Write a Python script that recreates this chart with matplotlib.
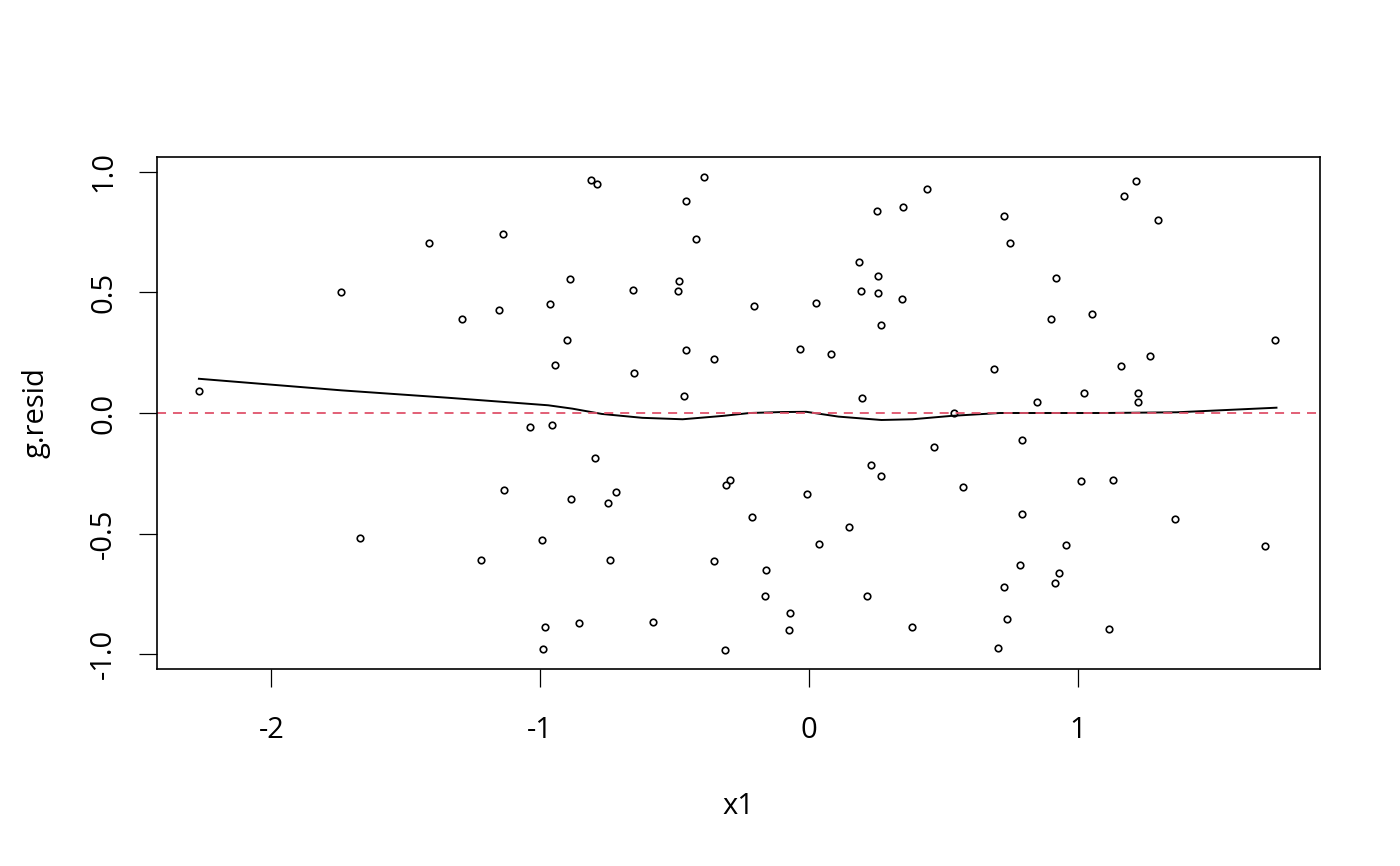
import matplotlib
matplotlib.use("Agg")
import matplotlib.pyplot as plt

plt.rcParams['font.family'] = ['Open Sans', 'DejaVu Sans']
plt.rcParams['lines.scale_dashes'] = False

# data: residual points (x1, g.resid)
x1 = [-1.415, -1.740, -2.269,
      -0.812, -0.787, -0.392, -0.458, -0.421, -1.139, -0.889, -0.653, -0.483, -0.487,
      -1.292, -1.154, -0.964, -0.902, -0.944, -0.456, -0.354, -0.650, -0.464,
      0.439, 0.252, 0.351, 0.727, 0.747, 0.185, 0.258, 0.195, 0.256, 0.347,
      -0.205, 0.028, 0.267, -0.032, 0.084, 0.687, 0.198, 0.849, 0.541,
      1.217, 1.174, 1.300, 0.918, 0.900, 1.054, 1.736, 1.268, 1.160, 1.025, 1.223, 1.223,
      -1.669,
      -1.038, -0.955, -0.797, -1.133, -0.887, -0.719, -0.746, -0.309, -0.293, -0.992,
      -1.221, -0.742, -0.354, -0.982, -0.855, -0.580, -0.989, -0.313,
      0.793, 0.466, 0.231, 0.267, 0.573, -0.007, -0.211, 0.793, 0.151, 0.036,
      -0.158, -0.164, 0.218, -0.072, -0.073, 0.382, 0.786, 0.727, 0.736, 0.705,
      1.011, 1.132, 1.363, 1.699, 0.955, 0.932, 0.917, 1.115]
g_resid = [0.704, 0.501, 0.091,
           0.966, 0.950, 0.980, 0.879, 0.723, 0.742, 0.555, 0.512, 0.547, 0.507,
           0.392, 0.428, 0.453, 0.301, 0.201, 0.262, 0.222, 0.164, 0.069,
           0.930, 0.836, 0.856, 0.816, 0.707, 0.625, 0.569, 0.505, 0.497, 0.472,
           0.444, 0.455, 0.367, 0.265, 0.244, 0.184, 0.062, 0.046, 0.001,
           0.963, 0.901, 0.802, 0.558, 0.391, 0.409, 0.304, 0.237, 0.193, 0.081, 0.081, 0.046,
           -0.518,
           -0.057, -0.048, -0.185, -0.319, -0.355, -0.327, -0.374, -0.297, -0.280, -0.526,
           -0.611, -0.611, -0.613, -0.887, -0.873, -0.868, -0.979, -0.984,
           -0.112, -0.142, -0.215, -0.262, -0.309, -0.334, -0.432, -0.420, -0.471, -0.542,
           -0.653, -0.759, -0.759, -0.828, -0.901, -0.887, -0.632, -0.720, -0.853, -0.976,
           -0.282, -0.276, -0.440, -0.553, -0.548, -0.663, -0.704, -0.896]

# smoother curve
smooth_x = [-2.27, -1.74, -1.34, -0.97, -0.88, -0.77, -0.62, -0.47, -0.32, -0.22,
            -0.10, -0.01, 0.11, 0.27, 0.385, 0.53, 0.71, 0.86, 1.10, 1.37, 1.74]
smooth_y = [0.142, 0.094, 0.063, 0.032, 0.018, -0.004, -0.020, -0.026, -0.012, 0.000,
            0.004, 0.005, -0.015, -0.029, -0.026, -0.012, 0.000, 0.000, 0.000, 0.003, 0.022]

x_ticks = [-2, -1, 0, 1]
y_ticks = [-1.0, -0.5, 0.0, 0.5, 1.0]
y_ticklabels = ["-1.0", "-0.5", "0.0", "0.5", "1.0"]

fig = plt.figure(figsize=(14, 8.66), dpi=100)
ax = fig.add_axes([157/1400, 1 - 669/866, (1320-157)/1400, (669-157)/866])

ax.plot(x1, g_resid, linestyle='none', marker='o', markersize=4.7,
        markerfacecolor='none', markeredgecolor='black', markeredgewidth=1.2)
ax.plot(smooth_x, smooth_y, color='black', linewidth=1.4, solid_joinstyle='round')
ax.axhline(0, color='#DF536B', linewidth=1.3, dashes=(6.5, 5))

ax.set_xlim(-2.426, 1.902)
ax.set_ylim(-1.062, 1.062)
ax.set_xticks(x_ticks)
ax.set_xticklabels([str(t) for t in x_ticks])
ax.set_yticks(y_ticks)
ax.set_yticklabels(y_ticklabels, rotation=90, va='center')

for s in ax.spines.values():
    s.set_linewidth(1.2)
ax.tick_params(axis='both', direction='out', length=13, width=0.9, labelsize=21, color='black')
ax.tick_params(axis='x', pad=21)
ax.tick_params(axis='y', pad=15)

ax.set_xlabel("x1", fontsize=21, labelpad=34)
ax.set_ylabel("g.resid", fontsize=21, labelpad=28)

fig.savefig("out.png", dpi=100)
